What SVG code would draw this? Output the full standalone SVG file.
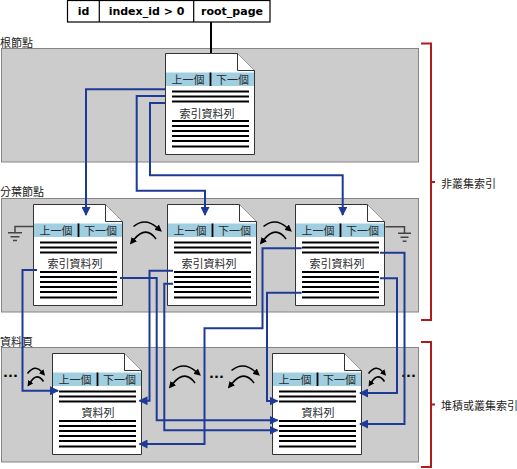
<svg xmlns="http://www.w3.org/2000/svg" width="517" height="469" viewBox="0 0 517 469">
<style>
.band{fill:#cccccc;stroke:#858585;stroke-width:1}
.cjk{font-family:"Noto Sans CJK TC","Noto Sans CJK SC",sans-serif;font-size:11px;fill:#222;dominant-baseline:central}
.hd{font-family:"Noto Sans CJK TC","Noto Sans CJK SC",sans-serif;font-size:11px;fill:#2a2a2a;dominant-baseline:central;text-anchor:middle}
.mid{text-anchor:middle}
.tbl{font-family:"DejaVu Sans",sans-serif;font-weight:bold;font-size:11px;fill:#000;text-anchor:middle}
.dots{font-family:"DejaVu Sans",sans-serif;font-weight:bold;font-size:13px;fill:#000}
.conn{fill:none;stroke:#1f3a96;stroke-width:2}
.arc{fill:none;stroke:#000;stroke-width:1.6}
.gnd{fill:none;stroke:#444;stroke-width:1.5}
.brk{fill:none;stroke:#b01c1c;stroke-width:2}
.rl{fill:none;stroke:#000;stroke-width:1.8}
.pg{fill:#fff;stroke:#333;stroke-width:1}
</style>
<defs>
<marker id="ab" markerUnits="userSpaceOnUse" markerWidth="9" markerHeight="9" viewBox="0 0 9 9" refX="8" refY="4.5" orient="auto"><path d="M0,0 L9,4.5 L0,9 z" fill="#1f3a96"/></marker>
<marker id="ak" markerUnits="userSpaceOnUse" markerWidth="7" markerHeight="7" viewBox="0 0 7 7" refX="0.5" refY="3.5" orient="auto"><path d="M0,0 L7,3.5 L0,7 z" fill="#000"/></marker>
<marker id="aks" markerUnits="userSpaceOnUse" markerWidth="6" markerHeight="6" viewBox="0 0 6 6" refX="0.5" refY="3" orient="auto"><path d="M0,0 L6,3 L0,6 z" fill="#000"/></marker>
<g id="page">
<path class="pg" d="M0.5,0.5 H72.5 L89.5,17.5 V101.5 H0.5 Z"/>
<path class="pg" d="M72.5,0.5 V17.5 H89.5"/>
<rect x="1" y="19.5" width="88" height="13.5" fill="#9fcfe1"/>
<line x1="45.5" y1="19.5" x2="45.5" y2="33" stroke="#000" stroke-width="1.8"/>
<path class="rl" d="M7,38.5H84M7,43.5H84M7,48.5H84M7,68H84M7,73H84M7,78H84M7,83H84M7,88H84M7,93.5H84"/>
</g>
<g id="arcB">
<path class="arc" d="M3.5,7.5 Q15,-2 27,8.5" marker-end="url(#ak)"/>
<path class="arc" d="M26,20 Q16,6 4,20.5" marker-end="url(#ak)"/>
</g>
<g id="arcS">
<path class="arc" d="M1.5,7.5 Q9,-2 15.5,5.5" marker-end="url(#aks)"/>
<path class="arc" d="M17.5,15.5 Q11,6 4.5,16" marker-end="url(#aks)"/>
</g>
</defs>

<g id="bands">
<rect class="band" x="1.5" y="48.5" width="417" height="113.5"/>
<rect class="band" x="1.5" y="198.5" width="417" height="113.5"/>
<rect class="band" x="1.5" y="347.5" width="417" height="114.5"/>
<text class="cjk" x="0" y="42">根節點</text>
<text class="cjk" x="0" y="191">分葉節點</text>
<text class="cjk" x="0" y="341">資料頁</text>
</g>

<g id="sysindexes">
<rect x="67.5" y="0.5" width="202.5" height="21.5" fill="#fff" stroke="#000" stroke-width="1.2"/>
<line x1="99.3" y1="0.5" x2="99.3" y2="22" stroke="#000" stroke-width="1.2"/>
<line x1="193.7" y1="0.5" x2="193.7" y2="22" stroke="#000" stroke-width="1.2"/>
<text class="tbl" x="83.5" y="15">id</text>
<text class="tbl" x="146.5" y="15">index_id &gt; 0</text>
<text class="tbl" x="232" y="15">root_page</text>
<line x1="211" y1="22" x2="211" y2="53.5" stroke="#000" stroke-width="2"/>
</g>

<g id="root" transform="translate(165,53)">
<use href="#page"/>
<text class="hd" x="23" y="26.3">上一個</text>
<text class="hd" x="67.5" y="26.3">下一個</text>
<text class="hd" x="42" y="59.5">索引資料列</text>
</g>

<g id="int1" transform="translate(33,204)">
<use href="#page"/>
<text class="hd" x="23" y="26.3">上一個</text>
<text class="hd" x="67.5" y="26.3">下一個</text>
<text class="hd" x="42" y="58.5">索引資料列</text>
</g>
<g id="int2" transform="translate(167,204)">
<use href="#page"/>
<text class="hd" x="23" y="26.3">上一個</text>
<text class="hd" x="67.5" y="26.3">下一個</text>
<text class="hd" x="42" y="58.5">索引資料列</text>
</g>
<g id="int3" transform="translate(295,204)">
<use href="#page"/>
<text class="hd" x="23" y="26.3">上一個</text>
<text class="hd" x="67.5" y="26.3">下一個</text>
<text class="hd" x="42" y="58.5">索引資料列</text>
</g>

<g id="leaf1" transform="translate(52,353)">
<use href="#page"/>
<text class="hd" x="23" y="26.3">上一個</text>
<text class="hd" x="67.5" y="26.3">下一個</text>
<text class="hd" x="46" y="58.5">資料列</text>
</g>
<g id="leaf2" transform="translate(272,353)">
<use href="#page"/>
<text class="hd" x="23" y="26.3">上一個</text>
<text class="hd" x="67.5" y="26.3">下一個</text>
<text class="hd" x="46" y="58.5">資料列</text>
</g>

<g id="grounds">
<path class="gnd" d="M33,226.5 H15 V232.7 M8,232.7 H22 M10.5,236.7 H19.5 M13,240.5 H17"/>
<path class="gnd" d="M385.5,226.7 H404.5 V233.3 M398,233.3 H411 M400.5,237.3 H408.5 M402.7,241.3 H406.5"/>
</g>

<g id="sibling-links">
<use href="#arcB" x="130" y="219"/>
<use href="#arcB" x="260" y="219"/>
<use href="#arcS" x="26" y="366"/>
<use href="#arcB" x="169" y="363"/>
<use href="#arcB" x="228" y="363"/>
<use href="#arcS" x="367" y="366"/>
<text class="dots" x="3" y="377">...</text>
<text class="dots" x="209" y="378">...</text>
<text class="dots" x="401" y="377">...</text>
</g>

<g id="connectors">
<path class="conn" d="M165,89.3 H86 V215" marker-end="url(#ab)"/>
<path class="conn" d="M165,96 H136.7 V190.7 H205 V215" marker-end="url(#ab)"/>
<path class="conn" d="M165,103 H150 V175.3 H342.7 V215" marker-end="url(#ab)"/>
<path class="conn" d="M37,270 H22.5 V390.7 H58" marker-end="url(#ab)"/>
<path class="conn" d="M120,278 H156.7 V420.3 H277.5" marker-end="url(#ab)"/>
<path class="conn" d="M173,270.7 H149.5 V400.7 H139.5" marker-end="url(#ab)"/>
<path class="conn" d="M173,283.7 H164.3 V430.3 H277.5" marker-end="url(#ab)"/>
<path class="conn" d="M301.7,248.3 H262.5 V328.3 H204.5 V444 H139.5" marker-end="url(#ab)"/>
<path class="conn" d="M301.7,292.7 H267 V401 H277.5" marker-end="url(#ab)"/>
<path class="conn" d="M380,252.7 H404.5 V424 H360" marker-end="url(#ab)"/>
<path class="conn" d="M380,278.3 H397 V393 H360" marker-end="url(#ab)"/>
</g>

<g id="brackets">
<path class="brk" d="M421,43.5 H431 V320 H421 M431,182 H435"/>
<text class="cjk" x="441" y="183">非叢集索引</text>
<path class="brk" d="M421,342 H431 V467 H421 M431,404.5 H435"/>
<text class="cjk" x="441" y="405">堆積或叢集索引</text>
</g>
</svg>
